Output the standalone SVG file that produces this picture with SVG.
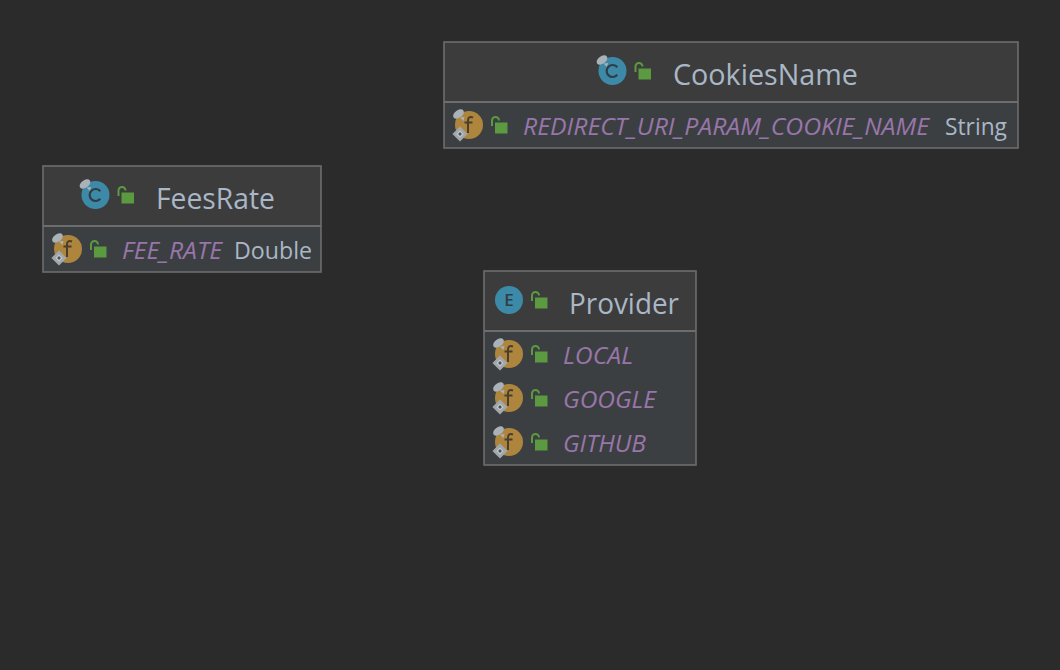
<svg xmlns="http://www.w3.org/2000/svg" width="1060" height="670" viewBox="0 0 1060 670">
<style>
.box{stroke:#6d6d6d;stroke-width:1.600;fill:#3c3f41}
.head{fill:#3c3c3c}
.div{stroke:#6d6d6d;stroke-width:2}
text{font-family:"Open Sans","Noto Sans","Liberation Sans",sans-serif}
.t{font-size:28.500px;fill:#a9b7c6}
.f{font-size:24.500px;font-style:italic;fill:#9876aa}
.y{font-size:23.500px;fill:#a9b7c6}
.g{font-size:17px;fill:#2f3e46;text-anchor:middle;font-weight:600}
</style>
<defs>
<g id="lock">
<rect x="26" y="-2.500" width="12.500" height="11" fill="#5b9a41"/>
<path d="M23 1V-4.500A3.500 3.500 0 0 1 30 -4.500" fill="none" stroke="#5b9a41" stroke-width="2"/>
</g>
<g id="pin">
<ellipse cx="-10.500" cy="-11" rx="6" ry="3.800" transform="rotate(-35 -10.500 -11)" fill="#a9b2b8"/>
<path d="M-9 -7.500L-4.500 -8L-5.500 -4Z" fill="#a9b2b8"/>
</g>
<g id="classIcon">
<circle r="14" fill="#3d8aa8"/>
<use href="#pin"/>
<path d="M4.800 -3.800A6 6 0 1 0 4.800 3.800" fill="none" stroke="#2f3e46" stroke-width="2.200"/>
<use href="#lock"/>
</g>
<g id="fieldIcon">
<circle r="14" fill="#ae853c"/>
<use href="#pin"/>
<path d="M-9 3.500L-3.500 9L-9 14.500L-14.500 9Z" fill="#c9ced1" stroke="#a0a8ad" stroke-width="3"/>
<path d="M-9 7L-7 9L-9 11L-11 9Z" fill="#4e5254"/>
<path d="M4 -7.500C1 -8.800 -1 -7.500 -1 -4.500V8M-4.500 -2.500H3.500" fill="none" stroke="#4a3f2c" stroke-width="2"/>
<use href="#lock"/>
</g>
</defs>
<rect width="1060" height="670" fill="#2b2b2b"/>
<g id="connectors"/>
<g id="CookiesName">
<rect class="box" x="444" y="42" width="574" height="106"/>
<rect class="head" x="445" y="43" width="572" height="59"/>
<line class="div" x1="444" y1="102" x2="1018" y2="102"/>
<use href="#classIcon" x="612.500" y="71"/>
<text class="t" x="673" y="85" textLength="185" lengthAdjust="spacingAndGlyphs">CookiesName</text>
<use href="#fieldIcon" x="469" y="125"/>
<text class="f" x="523" y="135" textLength="406" lengthAdjust="spacingAndGlyphs">REDIRECT_URI_PARAM_COOKIE_NAME</text>
<text class="y" x="945" y="135" textLength="62" lengthAdjust="spacingAndGlyphs">String</text>
</g>
<g id="FeesRate">
<rect class="box" x="43" y="166" width="278" height="106"/>
<rect class="head" x="44" y="167" width="276" height="59"/>
<line class="div" x1="43" y1="226" x2="321" y2="226"/>
<use href="#classIcon" x="95.500" y="195"/>
<text class="t" x="156" y="209" textLength="119" lengthAdjust="spacingAndGlyphs">FeesRate</text>
<use href="#fieldIcon" x="68" y="249"/>
<text class="f" x="122" y="259" textLength="100" lengthAdjust="spacingAndGlyphs">FEE_RATE</text>
<text class="y" x="234" y="259" textLength="78" lengthAdjust="spacingAndGlyphs">Double</text>
</g>
<g id="Provider">
<rect class="box" x="484" y="271" width="212" height="194"/>
<rect class="head" x="485" y="272" width="210" height="59"/>
<line class="div" x1="484" y1="331" x2="696" y2="331"/>
<circle cx="509" cy="300" r="14" fill="#3d8aa8"/>
<text x="509" y="306" class="g">E</text>
<use href="#lock" x="509" y="300"/>
<text class="t" x="569" y="314" textLength="110" lengthAdjust="spacingAndGlyphs">Provider</text>
<use href="#fieldIcon" x="509" y="354"/>
<text class="f" x="563" y="364" textLength="70" lengthAdjust="spacingAndGlyphs">LOCAL</text>
<use href="#fieldIcon" x="509" y="398"/>
<text class="f" x="563" y="408" textLength="93" lengthAdjust="spacingAndGlyphs">GOOGLE</text>
<use href="#fieldIcon" x="509" y="442"/>
<text class="f" x="563" y="452" textLength="83" lengthAdjust="spacingAndGlyphs">GITHUB</text>
</g>
</svg>
